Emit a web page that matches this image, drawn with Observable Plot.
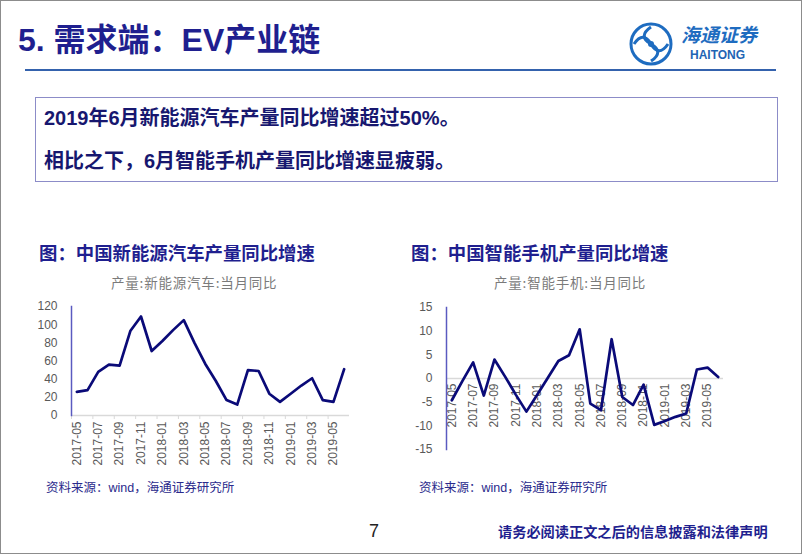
<!DOCTYPE html>
<html><head><meta charset="utf-8">
<script src="https://cdn.jsdelivr.net/npm/d3@7"></script>
<script src="https://cdn.jsdelivr.net/npm/@observablehq/plot@0.6"></script>
<style>
body{margin:0;background:#fff;}
#page{position:relative;width:802px;height:554px;overflow:hidden;background:#fff;box-sizing:border-box;border:1px solid #8c8c8c;font-family:"Noto Sans CJK SC",sans-serif;}
.abs{position:absolute;white-space:nowrap;line-height:1;}
.navy{color:#1f1f8f;}
#title{left:17px;top:23px;font-size:32px;font-weight:bold;font-family:"Liberation Sans","Noto Sans CJK SC",sans-serif;}
#hr{position:absolute;left:24px;top:68px;width:751px;height:2px;background:#3462ad;}
#box{position:absolute;left:34px;top:96px;width:743px;height:85px;border:1.5px solid #8c8cc8;box-sizing:border-box;}
.boxline{font-size:20px;font-weight:bold;color:#17176f;font-family:"Liberation Sans","Noto Sans CJK SC",sans-serif;}
.ctitle{font-size:18.4px;font-weight:bold;color:#1f1f8f;}
.sub{font-size:13.5px;color:#7a7a7a;letter-spacing:0.8px;}
.src{font-size:12.5px;color:#2a2a8c;font-family:"Liberation Sans","Noto Sans CJK SC",sans-serif;}
.chart{position:absolute;}
</style>
</head><body>
<div id="page">
  <div id="title" class="abs navy">5. 需求端：EV产业链</div>
  <svg class="abs" style="left:627px;top:20px" width="46" height="46" viewBox="0 0 46 46">
    <circle cx="23" cy="23" r="20" fill="none" stroke="#1e6cc0" stroke-width="3"/>
    <path d="M23 6 C14 12 14 18 23 23 C32 28 32 34 23 40" fill="none" stroke="#1e6cc0" stroke-width="3"/>
    <path d="M6 23 C12 14 18 14 23 23 C28 32 34 32 40 23" fill="none" stroke="#1e6cc0" stroke-width="3"/>
    <circle cx="23" cy="23" r="3" fill="#1e6cc0"/>
  </svg>
  <div class="abs" style="left:680px;top:23px;font-size:19px;line-height:20px;color:#1e6cc0;font-style:italic;font-weight:bold;">海通证券</div>
  <div class="abs" style="left:689px;top:48px;font-size:12px;color:#1e64b4;font-weight:bold;font-family:'Liberation Sans',sans-serif;">HAITONG</div>
  <div id="hr"></div>
  <div id="box"></div>
  <div class="abs boxline" style="left:43px;top:107px;">2019年6月新能源汽车产量同比增速超过50%。</div>
  <div class="abs boxline" style="left:43px;top:150px;">相比之下，6月智能手机产量同比增速显疲弱。</div>
  <div class="abs ctitle" style="left:38px;top:242px;">图：中国新能源汽车产量同比增速</div>
  <div class="abs ctitle" style="left:410px;top:242px;">图：中国智能手机产量同比增速</div>
  <div class="abs sub" style="left:110px;top:275px;">产量:新能源汽车:当月同比</div>
  <div class="abs sub" style="left:493px;top:275px;">产量:智能手机:当月同比</div>
  <div id="chart1" class="chart" style="left:20px;top:295px;"></div>
  <div id="chart2" class="chart" style="left:395px;top:295px;"></div>
  <div class="abs src" style="left:45px;top:481px;">资料来源：wind，海通证券研究所</div>
  <div class="abs src" style="left:418px;top:481px;">资料来源：wind，海通证券研究所</div>
  <div class="abs" style="left:368px;top:521px;font-size:18px;color:#222;font-family:'Liberation Sans',sans-serif;">7</div>
  <div class="abs" style="left:497px;top:523px;font-size:14.2px;font-weight:bold;color:#1f1f8f;">请务必阅读正文之后的信息披露和法律声明</div>
</div>
<script>
const months = ["2017-05","2017-06","2017-07","2017-08","2017-09","2017-10","2017-11","2017-12",
  "2018-01","2018-02","2018-03","2018-04","2018-05","2018-06","2018-07","2018-08","2018-09","2018-10","2018-11","2018-12",
  "2019-01","2019-02","2019-03","2019-04","2019-05","2019-06"];
const labelMonths = ["2017-05","2017-07","2017-09","2017-11","2018-01","2018-03","2018-05","2018-07","2018-09","2018-11","2019-01","2019-03","2019-05"];
const evValues = [26, 28, 48, 56, 55, 93, 109, 71, 82, 94, 105, 80, 57, 38, 17, 12, 50, 49, 24, 15, 24, 33, 41, 17, 15, 51];
const phoneValues = [-4.6, -0.5, 3.4, -3.6, 4.0, 0.4, -3.4, -7.0, -3.5, 0.1, 3.7, 4.9, 10.4, -5.3, -6.7, 8.3, -3.9, -5.6, -1.3, -9.8, -9.0, -8.1, -7.4, 1.9, 2.3, 0.3];
const evTicks = [0, 20, 40, 60, 80, 100, 120];
const phoneTicks = [-15, -10, -5, 0, 5, 10, 15];

const evData = months.map((m, i) => ({month: m, value: evValues[i]}));
const phoneData = months.map((m, i) => ({month: m, value: phoneValues[i]}));

const axisFont = "'Liberation Sans', Arial, sans-serif";
const lineColor = "#0a0a78";
const axisColor = "#5a5ac0";
const gridGray = "#d9d9d9";
const tickGray = "#595959";

// Chart 1
const w1 = 340, ml1 = 50, mr1 = 12;
const step1 = (w1 - ml1 - mr1) / months.length;
const chart1 = Plot.plot({
  width: w1, height: 180, marginLeft: ml1, marginRight: mr1, marginTop: 10, marginBottom: 61,
  style: {background: "transparent", fontFamily: axisFont, fontSize: "12px", overflow: "visible"},
  x: {type: "point", domain: months, padding: 0.5, round: false, label: null},
  y: {domain: [0, 120], label: null},
  marks: [
    Plot.ruleY([0], {stroke: gridGray, strokeWidth: 1.5}),
    Plot.axisX({ticks: labelMonths, tickSize: 4, tickFormat: () => "", stroke: gridGray, dx: -step1 / 2, label: null}),
    Plot.axisX({ticks: labelMonths, tickSize: 0, tickPadding: 6, tickRotate: -90, textAnchor: "end", lineAnchor: "middle", fill: tickGray, fontSize: 12, label: null}),
    Plot.axisY({ticks: evTicks, tickSize: 0, tickPadding: 14, fill: tickGray, fontSize: 12, tickFormat: d => String(d), label: null}),
    Plot.frame({anchor: "left", stroke: axisColor, strokeWidth: 1.5}),
    Plot.line(evData, {x: "month", y: "value", stroke: lineColor, strokeWidth: 2.7})
  ]
});
document.getElementById("chart1").appendChild(chart1);

// Chart 2
const w2 = 340, ml2 = 50, mr2 = 13;
const chart2 = Plot.plot({
  width: w2, height: 165, marginLeft: ml2, marginRight: mr2, marginTop: 11, marginBottom: 12,
  style: {background: "transparent", fontFamily: axisFont, fontSize: "12px", overflow: "visible"},
  x: {type: "point", domain: months, padding: 0.5, round: false, axis: null},
  y: {domain: [-15, 15], axis: null},
  marks: [
    Plot.ruleY([0], {stroke: gridGray, strokeWidth: 1.5}),
    Plot.text(labelMonths, {x: d => d, y: d => 0, text: d => d, rotate: -90, textAnchor: "end", lineAnchor: "middle", dy: 5, fill: tickGray, fontSize: 12}),
    Plot.axisY({ticks: phoneTicks, tickSize: 0, tickPadding: 14, fill: tickGray, fontSize: 12, tickFormat: d => String(d), label: null}),
    Plot.frame({anchor: "left", stroke: axisColor, strokeWidth: 1.5}),
    Plot.line(phoneData, {x: "month", y: "value", stroke: lineColor, strokeWidth: 2.7})
  ]
});
document.getElementById("chart2").appendChild(chart2);
</script>
</body></html>
